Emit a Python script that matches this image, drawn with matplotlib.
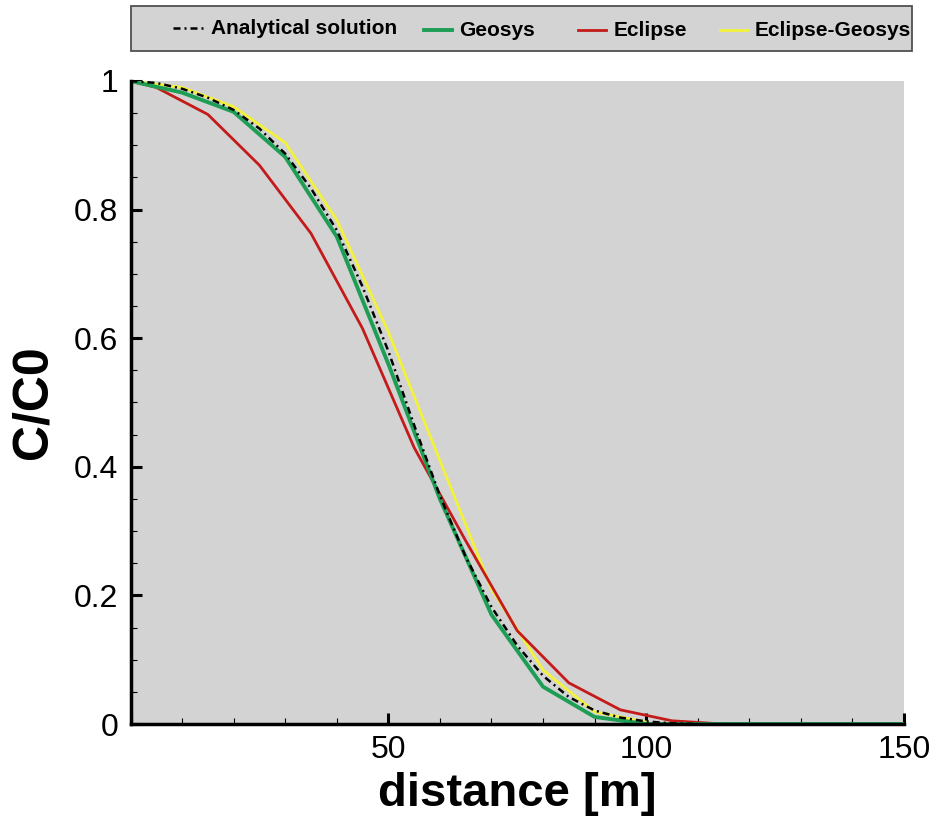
import matplotlib
matplotlib.use("Agg")
import matplotlib.pyplot as plt
from matplotlib.lines import Line2D
from matplotlib.patches import Rectangle
from matplotlib.ticker import MultipleLocator, FixedLocator

plt.rcParams['font.family'] = ['Liberation Sans', 'DejaVu Sans']

# ---- data ----
x_analytical = [0, 5, 10, 15, 20, 25, 30, 35, 40, 45, 50, 55, 60, 65, 70, 75, 80, 85, 90, 95, 100, 105, 110]
c_analytical = [1.0, 0.997, 0.988, 0.974, 0.955, 0.926, 0.887, 0.833, 0.768, 0.68, 0.58, 0.465, 0.355, 0.26, 0.182, 0.122, 0.075, 0.042, 0.021, 0.01, 0.004, 0.001, 0.0]

x_geosys = [0, 10, 20, 30, 40, 50, 60, 70, 80, 90, 100, 110, 120, 130, 140, 150]
c_geosys = [1.0, 0.982, 0.952, 0.882, 0.758, 0.56, 0.35, 0.17, 0.058, 0.011, 0.0, 0.0, 0.0, 0.0, 0.0, 0.0]

x_eclipse = [0, 5, 15, 25, 35, 45, 55, 65, 75, 85, 95, 105, 115]
c_eclipse = [1.0, 0.99, 0.948, 0.869, 0.763, 0.615, 0.43, 0.285, 0.145, 0.064, 0.022, 0.005, 0.0]

x_eg = [0, 10, 20, 30, 40, 50, 60, 70, 80, 90, 100]
c_eg = [1.0, 0.99, 0.96, 0.904, 0.784, 0.61, 0.41, 0.21, 0.084, 0.019, 0.003]

series_labels = ["Analytical solution", "Geosys", "Eclipse", "Eclipse-Geosys"]
y_ticks = [0, 0.2, 0.4, 0.6, 0.8, 1.0]
y_ticklabels = ["0", "0.2", "0.4", "0.6", "0.8", "1"]
x_ticks = [0, 50, 100, 150]
x_ticklabels = ["", "50", "100", "150"]

W, H = 936, 818
fig = plt.figure(figsize=(W / 100, H / 100), dpi=100)
fig.patch.set_facecolor("white")

left, right, bottom, top = 130.5, 904, 724, 81
ax = fig.add_axes([left / W, 1 - bottom / H, (right - left) / W, (bottom - top) / H])
ax.set_facecolor("#d3d3d3")

GREEN = "#1e9e55"
RED = "#c41a1a"
YELLOW = "#f2f23a"

l_eg, = ax.plot(x_eg, c_eg, color=YELLOW, lw=2.0, zorder=2)
l_ecl, = ax.plot(x_eclipse, c_eclipse, color=RED, lw=2.0, zorder=3)
l_geo, = ax.plot(x_geosys, c_geosys, color=GREEN, lw=2.8, zorder=4)
l_an, = ax.plot(x_analytical, c_analytical, color="black", lw=1.8,
                dashes=(2.8, 1.6, 0.8, 1.6), zorder=5)

ax.set_xlim(0, 150)
ax.set_ylim(0, 1)
for s in ["top", "right"]:
    ax.spines[s].set_visible(False)
for s in ["left", "bottom"]:
    ax.spines[s].set_linewidth(2.5)
    ax.spines[s].set_zorder(6)

ax.xaxis.set_major_locator(FixedLocator(x_ticks))
ax.set_xticklabels(x_ticklabels)
ax.xaxis.set_minor_locator(MultipleLocator(10))
ax.yaxis.set_major_locator(FixedLocator(y_ticks))
ax.set_yticklabels(y_ticklabels)
ax.yaxis.set_minor_locator(MultipleLocator(0.05))

ax.tick_params(which="major", direction="in", length=8, width=2.2, labelsize=23, pad=9, colors="black")
ax.tick_params(which="minor", direction="in", length=4.5, width=0.8)
ax.tick_params(axis="x", which="major", pad=8)

ax.set_xlabel("distance [m]", fontsize=34, fontweight="bold", labelpad=5)
ax.set_ylabel("C/C0", fontsize=36, fontweight="bold", labelpad=12)

# ---- legend box (manual, above plot) ----
box_l, box_r, box_t, box_b = 130.5, 912, 6, 51
fig.add_artist(Rectangle((box_l / W, 1 - box_b / H), (box_r - box_l) / W, (box_b - box_t) / H,
                         transform=fig.transFigure, facecolor="#d3d3d3", edgecolor="#505050",
                         lw=1.3, zorder=1))

entries = [
    (l_an, 173, 204, 211, 28),
    (l_geo, 424, 452, 459, 30),
    (l_ecl, 578, 606, 614, 30),
    (l_eg, 720, 748, 755, 30),
]
for (ln, x0, x1, tx, ty), lab in zip(entries, series_labels):
    kw = dict(color=ln.get_color(), lw=ln.get_linewidth(), transform=fig.transFigure)
    if ln is l_an:
        kw["dashes"] = (2.8, 1.6, 0.8, 1.6)
    fig.add_artist(Line2D([x0 / W, x1 / W], [1 - ty / H, 1 - ty / H], **kw))
    fig.text(tx / W, 1 - ty / H, lab, fontsize=15, fontweight="bold",
             ha="left", va="center")

fig.savefig("out.png", dpi=100)
